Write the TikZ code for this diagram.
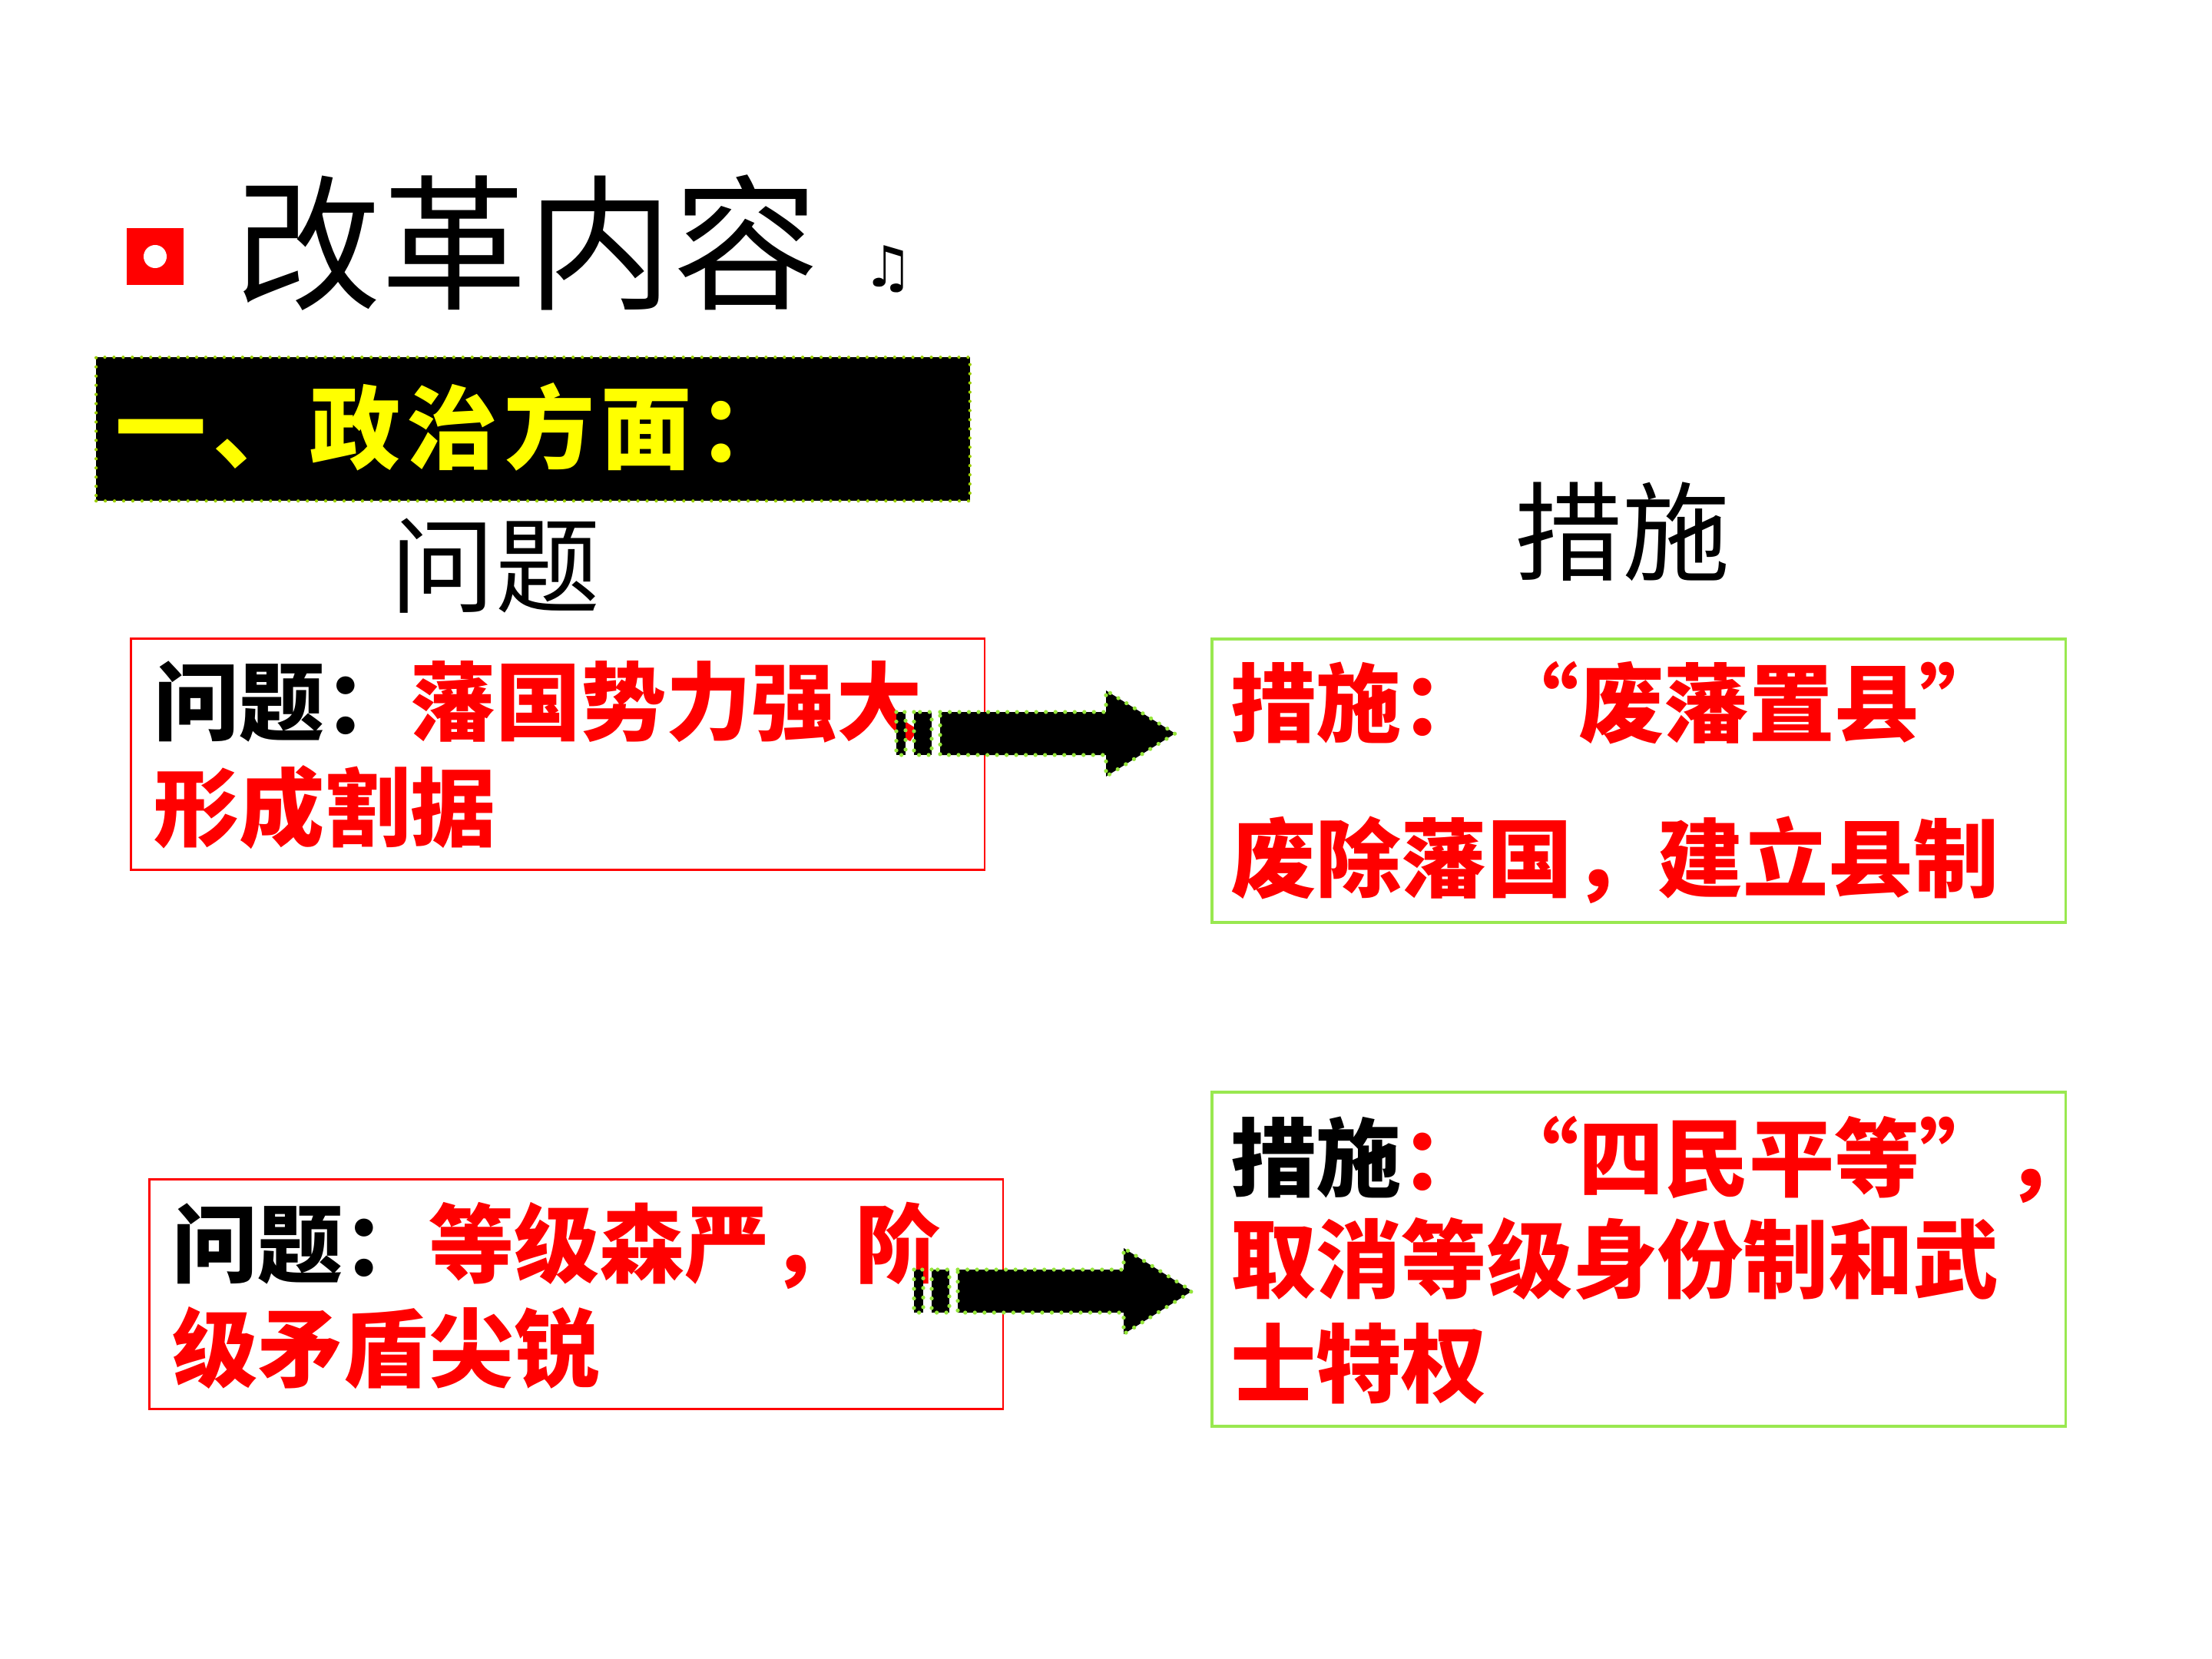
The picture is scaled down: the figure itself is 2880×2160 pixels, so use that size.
\documentclass[tikz,border=0pt]{standalone}
\usepackage{fontspec}
\newfontfamily\cjk{Noto Sans CJK SC}
\newfontfamily\cjkwide[LetterSpace=7]{Noto Sans CJK SC}
\newfontfamily\djv{DejaVu Sans}
\definecolor{boxred}{RGB}{255,0,0}
\definecolor{boxgreen}{RGB}{153,232,80}
\definecolor{dotgreen}{RGB}{150,230,60}
\definecolor{ygreen}{RGB}{153,204,0}
\definecolor{titleyellow}{RGB}{255,255,0}
\tikzset{
  redbox/.style={draw=boxred, line width=0.8pt, inner sep=0pt, anchor=north west},
  greenbox/.style={draw=boxgreen, line width=1pt, inner sep=0pt, anchor=north west},
  txt/.style={anchor=base west, inner sep=0pt, font=\cjk\bfseries\fontsize{31.6pt}{31.6pt}\selectfont},
  blockarrow/.style={fill=black, draw=dotgreen, line width=1.5pt, line cap=round, dash pattern=on 0pt off 3.56pt},
}
\begin{document}
\begin{tikzpicture}[x=0.01cm,y=-0.01cm]
\useasboundingbox (0,0) rectangle (2880,2160);
\fill[white] (0,0) rectangle (2880,2160);
% bullet and title
\node[fill=boxred, minimum size=0.74cm, inner sep=0pt] (bul) at (202,334) {};
\node[fill=white, circle, minimum size=0.3cm, inner sep=0pt] (buldot) at (bul) {};
\node[anchor=base west, inner sep=0pt, font=\cjk\fontsize{54pt}{54pt}\selectfont] (title) at (306,388) {改革内容};
\node[inner sep=0pt, font=\djv\fontsize{21pt}{21pt}\selectfont] (note) at (1157,350) {♫};
% black banner
\node[fill=black, draw=ygreen, line width=1.2pt, line cap=round, dash pattern=on 0pt off 3.4pt,
      minimum width=11.37cm, minimum height=1.87cm, inner sep=0pt, anchor=north west] (banner) at (123,463) {};
\node[anchor=base west, inner sep=0pt, text=titleyellow, font=\cjkwide\bfseries\fontsize{33.6pt}{33.6pt}\selectfont] (bantext) at (150,601) {一、政治方面：};
% headings
\node[anchor=base, inner sep=0pt, font=\cjk\fontsize{38.7pt}{38.7pt}\selectfont] (hwenti) at (645,787) {问题};
\node[anchor=base, inner sep=0pt, font=\cjk\fontsize{39.8pt}{39.8pt}\selectfont] (hcuoshi) at (2112,745) {措施};
% boxes
\node[redbox, minimum width=11.11cm, minimum height=3.01cm] (p1) at (169,830) {};
\node[greenbox, minimum width=11.11cm, minimum height=3.69cm] (m1) at (1576,830) {};
\node[redbox, minimum width=11.11cm, minimum height=2.99cm] (p2) at (193,1534) {};
\node[greenbox, minimum width=11.11cm, minimum height=4.35cm] (m2) at (1576,1420) {};
% box texts
\node[txt] (p1a) at (200,955) {问题：{\color{boxred}藩国势力强大}};
\node[txt, text=boxred] (p1b) at (200,1093) {形成割据};
\node[txt, text=boxred] (m1a) at (1602,957) {措施：\hspace{0.08cm}“废藩置县”};
\node[txt, text=boxred] (m1b) at (1602,1159) {废除藩国，建立县制};
\node[txt] (p2a) at (224,1661) {问题：{\color{boxred}等级森严，阶}};
\node[txt, text=boxred] (p2b) at (224,1797) {级矛盾尖锐};
\node[txt] (m2a) at (1602,1549) {措施{\color{boxred}：\hspace{0.08cm}“四民平等”，}};
\node[txt, text=boxred] (m2b) at (1602,1681) {取消等级身份制和武};
\node[txt, text=boxred] (m2c) at (1602,1817) {士特权};
% arrows
\begin{scope}[shift={(1167,955)}]
\draw[blockarrow] (0,-28) rectangle (12,28);
\draw[blockarrow] (23,-28) rectangle (46,28);
\draw[blockarrow] (57,-28) -- (273,-28) -- (273,-56) -- (363,0) -- (273,56) -- (273,28) -- (57,28) -- cycle;
\end{scope}
\begin{scope}[shift={(1190,1681)}]
\draw[blockarrow] (0,-28) rectangle (12,28);
\draw[blockarrow] (23,-28) rectangle (46,28);
\draw[blockarrow] (57,-28) -- (273,-28) -- (273,-56) -- (362,0) -- (273,56) -- (273,28) -- (57,28) -- cycle;
\end{scope}
\end{tikzpicture}
\end{document}
